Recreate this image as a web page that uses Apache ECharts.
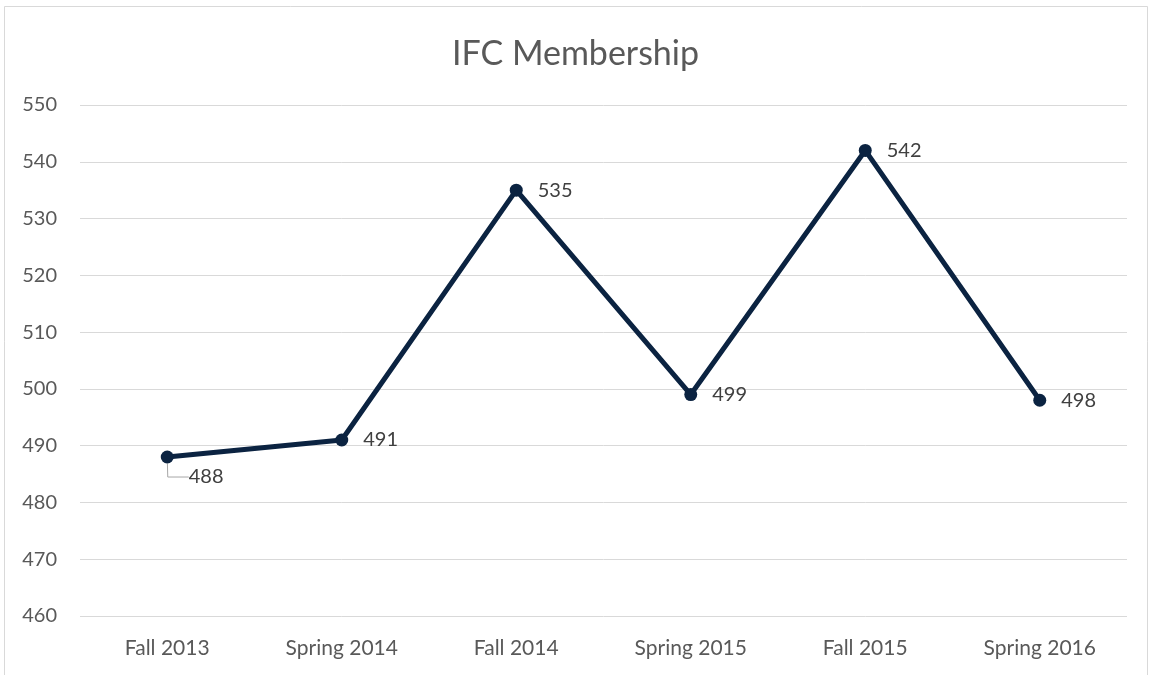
<!DOCTYPE html>
<html><head><meta charset="utf-8">
<script src="https://cdn.jsdelivr.net/npm/echarts@6/dist/echarts.min.js"></script>
<style>html,body{margin:0;padding:0;background:#fff}#c{width:1151px;height:675px}</style>
</head><body><div id="c"></div>
<script>
const categories = ['Fall 2013','Spring 2014','Fall 2014','Spring 2015','Fall 2015','Spring 2016'];
const membership = [488, 491, 535, 499, 542, 498];
const yTicks = {min: 460, max: 550, interval: 10};
const titleText = 'IFC Membership';

const chart = echarts.init(document.getElementById('c'));
const font = "Lato, sans-serif";
const seriesData = membership.map((v, i) => i === 0
  ? {value: v, labelLine: {show: true}}
  : {value: v});
chart.setOption({
  backgroundColor: '#fff',
  animation: false,
  title: {text: titleText, left: 'center', top: 32,
    textStyle: {fontFamily: font, fontSize: 34, fontWeight: 'normal', color: '#595959'}},
  graphic: [{type: 'rect', shape: {x: 4.5, y: 6.5, width: 1143, height: 680},
    style: {fill: 'none', stroke: '#d9d9d9', lineWidth: 1}, silent: true}],
  grid: {left: 80, right: 24, top: 105, bottom: 59},
  xAxis: {type: 'category', data: categories, boundaryGap: true,
    axisLine: {show: false}, axisTick: {show: false},
    axisLabel: {fontFamily: font, fontSize: 21, color: '#595959', margin: 22}},
  yAxis: {type: 'value', min: yTicks.min, max: yTicks.max, interval: yTicks.interval,
    axisLine: {show: false}, axisTick: {show: false},
    splitLine: {lineStyle: {color: '#d9d9d9', width: 1}},
    axisLabel: {fontFamily: font, fontSize: 20, color: '#595959', margin: 23}},
  series: [{type: 'line', data: seriesData, symbol: 'circle', symbolSize: 13,
    lineStyle: {color: '#0b2341', width: 5}, itemStyle: {color: '#0b2341'},
    label: {show: true, position: 'right', distance: 15, fontFamily: font, fontSize: 20, color: '#404040', offset: [0, 2]},
    labelLine: {show: false, length2: 21, smooth: false, lineStyle: {color: '#a6a6a6', width: 1}},
    labelLayout: function (p) { return p.dataIndex === 0 ? {dx: 0, dy: 20} : {}; }
  }]
});
</script></body></html>
